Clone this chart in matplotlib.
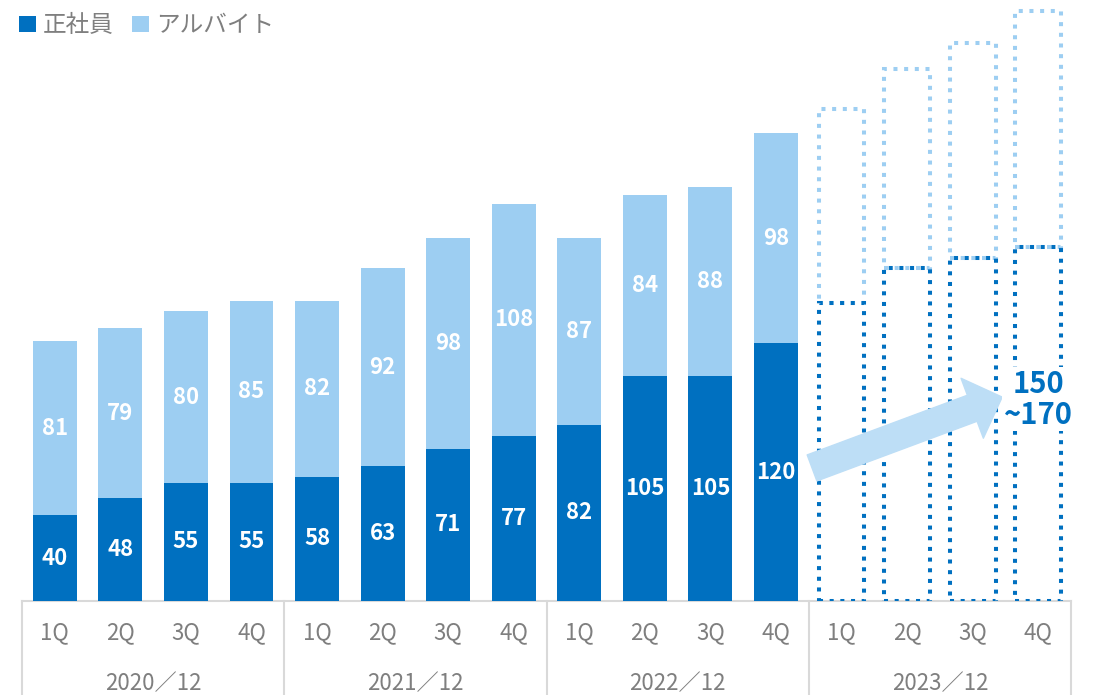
import numpy as np
import matplotlib
matplotlib.use("Agg")
import matplotlib.pyplot as plt
from matplotlib.patches import Patch

plt.rcParams['font.family'] = ['Noto Sans CJK JP', 'DejaVu Sans']

# data
quarters = ["1Q", "2Q", "3Q", "4Q"] * 4
years = ["2020／12", "2021／12", "2022／12", "2023／12"]
seishain = [40, 48, 55, 55, 58, 63, 71, 77, 82, 105, 105, 120]
arbeit = [81, 79, 80, 85, 82, 92, 98, 108, 87, 84, 88, 98]
# forecast outlines (2023/12)
fc_seishain = [139, 155, 160, 165]
fc_arbeit = [90, 93, 100, 110]
fc_text = "150\n~170"

dark = "#0070C0"
light = "#9DCEF2"
arrow_c = "#BDDEF6"
grey = "#7F7F7F"
line_c = "#D9D9D9"

fig = plt.figure(figsize=(10.97, 6.95), dpi=100)
ax = fig.add_axes([22 / 1097, 1 - 601 / 695, 1049 / 1097, 601 / 695])

x = np.arange(len(seishain))
w = 0.67
ax.bar(x, seishain, w, color=dark, zorder=2)
ax.bar(x, arbeit, w, bottom=seishain, color=light, zorder=2)

for i in range(len(seishain)):
    ax.text(x[i], seishain[i] / 2, str(seishain[i]), ha="center", va="center",
            color="white", fontsize=16, fontweight="bold", zorder=3)
    ax.text(x[i], seishain[i] + arbeit[i] / 2, str(arbeit[i]), ha="center", va="center",
            color="white", fontsize=16, fontweight="bold", zorder=3)

# forecast dotted bars
xf = np.arange(len(seishain), len(seishain) + len(fc_seishain))
dots = (0, (1, 1.65))
ax.bar(xf, fc_arbeit, 0.7, bottom=fc_seishain, fill=False, edgecolor=light,
       linewidth=2.9, linestyle=dots, zorder=2)
ax.bar(xf, fc_seishain, 0.7, fill=False, edgecolor=dark,
       linewidth=2.9, linestyle=dots, zorder=2)

# arrow and forecast text
ax.annotate("", xy=(14.45, 95), xytext=(11.55, 62),
            arrowprops=dict(arrowstyle="simple,tail_width=2.0,head_width=4.6,head_length=2.3",
                            color=arrow_c, shrinkA=0, shrinkB=0, mutation_scale=10),
            zorder=4)
ax.text(15.0, 94, fc_text, ha="center", va="center", color=dark, fontsize=21,
        fontweight="bold", linespacing=1.05, zorder=5,
        bbox=dict(facecolor="white", edgecolor="none", pad=1))

ax.set_xlim(-0.5, 15.5)
ax.set_ylim(0, 280)
ax.axis("off")

# category table below the axis
ax.plot([-0.5, 15.5], [0, 0], color=line_c, lw=1.5, clip_on=False, zorder=1)
for b in [-0.5, 3.5, 7.5, 11.5, 15.5]:
    ax.plot([b, b], [0, -50], color=line_c, lw=1.5, clip_on=False)
for i, q in enumerate(quarters):
    ax.text(i, -15, q, ha="center", va="center", color=grey, fontsize=16)
for j, yr in enumerate(years):
    ax.text(j * 4 + 1.5, -38.5, yr, ha="center", va="center", color=grey, fontsize=16)

# legend
handles = [Patch(facecolor=dark, label="正社員"), Patch(facecolor=light, label="アルバイト")]
fig.legend(handles=handles, loc="upper left", bbox_to_anchor=(-0.002, 1.01), ncol=2,
           frameon=False, fontsize=17, handlelength=0.7, handleheight=0.7,
           handletextpad=0.3, columnspacing=0.8, labelcolor=grey)

fig.savefig("out.png", dpi=100)
